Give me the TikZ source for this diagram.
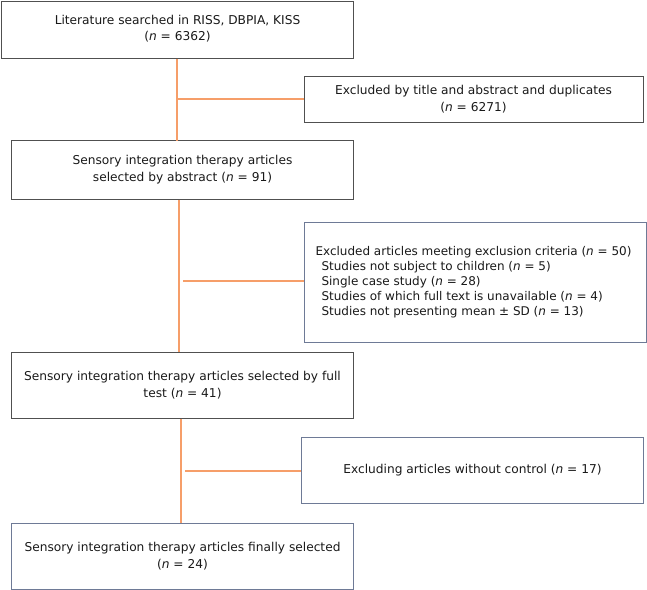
\documentclass[tikz,border=0pt]{standalone}
\usepackage{fontspec}
\setmainfont{DejaVu Sans}
\definecolor{lineor}{RGB}{246,158,105}
\definecolor{boxgray}{RGB}{80,80,80}
\definecolor{boxslate}{RGB}{110,122,150}
\begin{document}
\begin{tikzpicture}[x=1pt,y=-1pt,
  box/.style={draw=boxgray,line width=1pt,inner sep=0pt},
  sbox/.style={draw=boxslate,line width=1pt,inner sep=0pt},
  txt/.style={font=\fontsize{12.2}{16.5}\selectfont,align=center,text=black!90},
  ltxt/.style={font=\fontsize{12}{15}\selectfont,align=left,text=black!90},
  link/.style={draw=lineor,line width=1.4pt}]
\useasboundingbox (0,0) rectangle (647,589);
\node[box,minimum width=352,minimum height=57] (b1) at (177.5,29.5) {};
\node[txt] at ([yshift=1]b1.center) {Literature searched in RISS, DBPIA, KISS\\(\textit{n} = 6362)};
\node[box,minimum width=339,minimum height=46] (b2) at (473.5,99) {};
\node[txt] at (b2.center) {Excluded by title and abstract and duplicates\\(\textit{n} = 6271)};
\node[box,minimum width=342,minimum height=59] (b3) at (182.5,169.5) {};
\node[txt] at (b3.center) {Sensory integration therapy articles\\selected by abstract (\textit{n} = 91)};
\node[sbox,minimum width=342,minimum height=120] (b4) at (475.5,282) {};
\node[ltxt,anchor=west] at ([xshift=8]b4.west) {Excluded articles meeting exclusion criteria (\textit{n} = 50)\\
\hspace*{6pt}Studies not subject to children (\textit{n} = 5)\\
\hspace*{6pt}Single case study (\textit{n} = 28)\\
\hspace*{6pt}Studies of which full text is unavailable (\textit{n} = 4)\\
\hspace*{6pt}Studies not presenting mean ± SD (\textit{n} = 13)};
\node[box,minimum width=342,minimum height=66] (b5) at (182.5,385) {};
\node[txt] at (b5.center) {Sensory integration therapy articles selected by full\\test (\textit{n} = 41)};
\node[sbox,minimum width=342,minimum height=66] (b6) at (472.5,470.5) {};
\node[txt] at (b6.center) {Excluding articles without control (\textit{n} = 17)};
\node[sbox,minimum width=342,minimum height=66] (b7) at (182.5,556) {};
\node[txt] at (b7.center) {Sensory integration therapy articles finally selected\\(\textit{n} = 24)};
% connectors
\coordinate (t1) at (177,58.5);
\coordinate (u1) at (177,140.5);
\draw[link] (t1) -- (u1);
\coordinate (j1) at (177,99);
\draw[link] (j1) -- (b2.west |- j1);
\coordinate (t2) at (179,199.5);
\coordinate (u2) at (179,352);
\draw[link] (t2) -- (u2);
\coordinate (j2) at (183,281);
\draw[link] (j2) -- (b4.west |- j2);
\coordinate (t3) at (181,418.5);
\coordinate (u3) at (181,523);
\draw[link] (t3) -- (u3);
\coordinate (j3) at (185,471);
\draw[link] (j3) -- (b6.west |- j3);
\end{tikzpicture}
\end{document}
